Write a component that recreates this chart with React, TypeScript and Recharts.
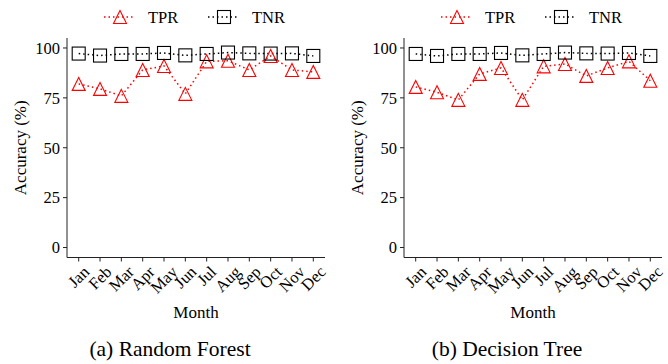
import React from "react";
import { LineChart, Line, XAxis, YAxis, Legend } from "recharts";

const months = ["Jan", "Feb", "Mar", "Apr", "May", "Jun", "Jul", "Aug", "Sep", "Oct", "Nov", "Dec"];
const yTicks = [0, 25, 50, 75, 100];
const seriesOrder = ["TPR", "TNR"];

// random forest
const rfTpr = [82, 79.5, 76, 89, 91, 77, 93.3, 93.6, 89, 96, 89, 88];
const rfTnr = [97.2, 96.2, 97, 97, 97.5, 96.3, 97, 97.7, 97.3, 97.2, 97.3, 96];

// decision tree
const dtTpr = [80.5, 77.8, 74, 87, 90, 74, 90.8, 92, 86, 90, 93.3, 83.6];
const dtTnr = [97, 96, 97, 97, 97.5, 96.3, 97, 97.7, 97.3, 97.2, 97.5, 96];

const FONT = "Liberation Serif, Tinos, DejaVu Serif, Times New Roman, serif";
const RED = "#ff0000";
const FRAME = "#222";

let ctx: CanvasRenderingContext2D | null = null;
function textWidth(s: string, size: number) {
  if (!ctx) ctx = document.createElement("canvas").getContext("2d");
  if (!ctx) return s.length * size * 0.5;
  ctx.font = `${size}px ${FONT}`;
  return ctx.measureText(s).width;
}

function marker(kind: string, cx: number, cy: number, color: string, key?: any) {
  const s = 6.5;
  if (kind === "TPR") {
    return (
      <polygon
        key={key}
        points={`${cx},${cy - s} ${cx - s},${cy + s} ${cx + s},${cy + s}`}
        fill="none"
        stroke={color}
        strokeWidth={1.1}
      />
    );
  }
  return (
    <rect key={key} x={cx - s} y={cy - s} width={2 * s} height={2 * s} fill="none" stroke={color} strokeWidth={1.1} />
  );
}

const TriDot = (p: any) => (p.cx == null ? null : marker("TPR", p.cx, p.cy, RED, p.index));
const SqDot = (p: any) => (p.cx == null ? null : marker("TNR", p.cx, p.cy, "#000", p.index));

const MonthTick = (p: any) => {
  const { x, y, payload } = p;
  const fs = 16.5;
  const w = textWidth(payload.value, fs);
  const h = fs * 0.95;
  const half = ((w + h) * Math.SQRT1_2) / 2;
  const cy = y + half;
  return (
    <text
      x={x}
      y={cy}
      textAnchor="middle"
      dominantBaseline="central"
      transform={`rotate(-45, ${x}, ${cy})`}
      fontSize={fs}
      fontFamily={FONT}
      fill="#000"
    >
      {payload.value}
    </text>
  );
};

const renderLegend = (props: any) => {
  const items = [...(props.payload || [])].sort(
    (a: any, b: any) => seriesOrder.indexOf(a.value) - seriesOrder.indexOf(b.value)
  );
  return (
    <svg width={334} height={28}>
      {items.map((it: any, i: number) => {
        const x0 = 104 + i * 104;
        const color = it.color;
        return (
          <g key={it.value}>
            <line x1={x0} x2={x0 + 31} y1={14} y2={14} stroke={color} strokeWidth={1.5} strokeDasharray="1.5 3" />
            {marker(it.value, x0 + 16, 14, color)}
            <text x={x0 + 44} y={14} dominantBaseline="central" fontSize={16.5} fontFamily={FONT} fill="#000">
              {it.value}
            </text>
          </g>
        );
      })}
    </svg>
  );
};

function Panel({ tpr, tnr, caption, left }: { tpr: number[]; tnr: number[]; caption: string; left: number }) {
  const data = months.map((m, i) => ({ month: m, TPR: tpr[i], TNR: tnr[i] }));
  return (
    <div style={{ position: "absolute", left, top: 0, width: 334, height: 364, fontFamily: FONT }}>
      <LineChart
        width={334}
        height={364}
        data={data}
        margin={{ top: 38, right: 9, left: 22, bottom: 46.5 }}
        style={{ fontFamily: FONT }}
      >
        <XAxis
          dataKey="month"
          interval={0}
          padding={{ left: 11.7, right: 11.7 }}
          tickSize={4}
          tickMargin={2}
          height={60}
          stroke={FRAME}
          tick={<MonthTick />}
          label={{ value: "Month", position: "insideBottom", offset: 0, fontSize: 17, fontFamily: FONT, fill: "#000" }}
        />
        <XAxis xAxisId="top" orientation="top" dataKey="month" height={0} tick={false} tickLine={false} stroke={FRAME} />
        <YAxis
          domain={[-5, 105]}
          ticks={yTicks}
          width={45}
          tickSize={4}
          tickMargin={3}
          stroke={FRAME}
          tick={{ fill: "#000", fontSize: 16.5, fontFamily: FONT }}
          label={{
            value: "Accuracy (%)",
            angle: -90,
            position: "insideLeft",
            offset: -2,
            fontSize: 17,
            fontFamily: FONT,
            fill: "#000",
            style: { textAnchor: "middle" },
          }}
        />
        <YAxis yAxisId="right" orientation="right" width={0} domain={[0, 1]} tick={false} tickLine={false} stroke={FRAME} />
        <Legend verticalAlign="middle" align="center" content={renderLegend} wrapperStyle={{ top: 3, left: 0, width: 334 }} />
        <Line
          dataKey="TPR"
          name="TPR"
          stroke={RED}
          strokeWidth={1.5}
          strokeDasharray="1.5 3"
          dot={TriDot}
          activeDot={false}
          isAnimationActive={false}
        />
        <Line
          dataKey="TNR"
          name="TNR"
          stroke="#000"
          strokeWidth={1.5}
          strokeDasharray="1.5 3"
          dot={SqDot}
          activeDot={false}
          isAnimationActive={false}
        />
      </LineChart>
      <div
        style={{
          position: "absolute",
          left: 170,
          top: 339,
          transform: "translateX(-50%)",
          whiteSpace: "nowrap",
          fontFamily: FONT,
          fontSize: 21.5,
          lineHeight: "21.5px",
          color: "#000",
        }}
      >
        {caption}
      </div>
    </div>
  );
}

export default function App() {
  return (
    <div style={{ position: "absolute", left: 0, top: 0, width: 668, height: 364, background: "#fff", overflow: "hidden" }}>
      <Panel tpr={rfTpr} tnr={rfTnr} caption="(a) Random Forest" left={0} />
      <Panel tpr={dtTpr} tnr={dtTnr} caption="(b) Decision Tree" left={337} />
    </div>
  );
}
